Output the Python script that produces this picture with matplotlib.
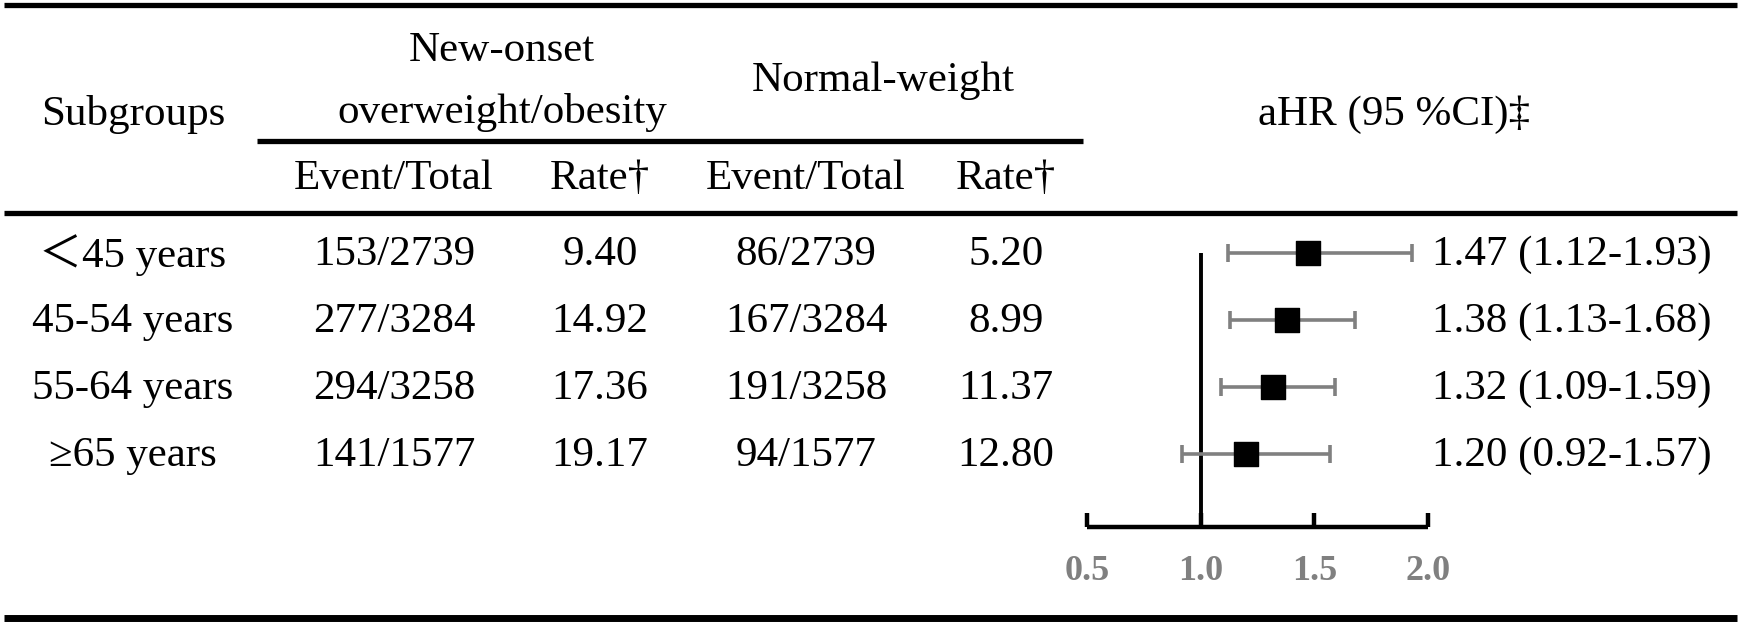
import matplotlib
matplotlib.use("Agg")
import matplotlib.pyplot as plt

plt.rcParams['font.family'] = ['Liberation Serif', 'Noto Sans CJK SC', 'DejaVu Sans']

# table data
subgroups = ['＜45 years', '45-54 years', '55-64 years', '≥65 years']
obese_event = ['153/2739', '277/3284', '294/3258', '141/1577']
obese_rate = ['9.40', '14.92', '17.36', '19.17']
normal_event = ['86/2739', '167/3284', '191/3258', '94/1577']
normal_rate = ['5.20', '8.99', '11.37', '12.80']

# aHR and 95% CI
hr = [1.47, 1.38, 1.32, 1.20]
ci_low = [1.12, 1.13, 1.09, 0.92]
ci_high = [1.93, 1.68, 1.59, 1.57]
ticks = [0.5, 1.0, 1.5, 2.0]

W, H = 1741, 625
fig = plt.figure(figsize=(W / 100, H / 100), dpi=100)

# table layer in pixel coords
tab = fig.add_axes([0, 0, 1, 1])
tab.set_xlim(0, W)
tab.set_ylim(H, 0)
tab.axis('off')

fs = 31
row_y0, row_dy = 253, 67
col_x = [133, 394, 600, 806, 1006]

# rules
tab.hlines(5, 4, 1737, color='black', lw=3.8)
tab.hlines(141, 257, 1083, color='black', lw=3.8)
tab.hlines(213, 4, 1737, color='black', lw=3.8)
tab.hlines(618, 4, 1737, color='black', lw=5)

# header
tab.text(col_x[0], 114, 'Subgroups', fontsize=fs, ha='center', va='center')
tab.text(502, 51, 'New-onset', fontsize=fs, ha='center', va='center')
tab.text(502, 112, 'overweight/obesity', fontsize=fs, ha='center', va='center')
tab.text(883, 81, 'Normal-weight', fontsize=fs, ha='center', va='center')
tab.text(1394, 115, 'aHR (95 %CI)‡', fontsize=fs, ha='center', va='center')
for x, lab in zip(col_x[1:], ['Event/Total', 'Rate†', 'Event/Total', 'Rate†']):
    tab.text(x, 179, lab, fontsize=fs, ha='center', va='center')

# body
for i in range(len(subgroups)):
    y = row_y0 + i * row_dy
    cells = [subgroups[i], obese_event[i], obese_rate[i], normal_event[i], normal_rate[i]]
    for x, c in zip(col_x, cells):
        tab.text(x, y + 2, c, fontsize=fs, ha='center', va='center')
    tab.text(1432, y + 2, '%.2f (%.2f-%.2f)' % (hr[i], ci_low[i], ci_high[i]),
             fontsize=fs, ha='left', va='center')

# forest plot
x0, x1 = 1087, 1428
ytop, ybot = 213, 527
ax = fig.add_axes([x0 / W, 1 - ybot / H, (x1 - x0) / W, (ybot - ytop) / H])
ax.patch.set_alpha(0)
ax.set_xlim(0.5, 2.0)
ybottom = (ybot - row_y0) / row_dy
ax.set_ylim(ybottom, (ytop - row_y0) / row_dy)
rows = list(range(len(hr)))

ax.vlines(1.0, 0, ybottom, color='black', lw=2.8, zorder=1)
ax.hlines(rows, ci_low, ci_high, color='#808080', lw=2.6, zorder=2)
ax.vlines(ci_low, [r - 0.14 for r in rows], [r + 0.14 for r in rows], color='#808080', lw=2.6, zorder=2)
ax.vlines(ci_high, [r - 0.14 for r in rows], [r + 0.14 for r in rows], color='#808080', lw=2.6, zorder=2)
ax.scatter(hr, rows, marker='s', s=310, color='black', zorder=3)

for s in ['top', 'left', 'right']:
    ax.spines[s].set_visible(False)
ax.spines['bottom'].set_linewidth(3.2)
ax.spines['bottom'].set_capstyle('butt')
ax.set_yticks([])
ax.set_xticks(ticks)
ax.set_xticklabels(['%.1f' % t for t in ticks])
ax.tick_params(axis='x', direction='in', length=10, width=3.2, pad=20,
               labelsize=26, labelcolor='#808080')
for t in ax.get_xticklabels():
    t.set_fontweight('bold')

fig.savefig('out.png', dpi=100)
